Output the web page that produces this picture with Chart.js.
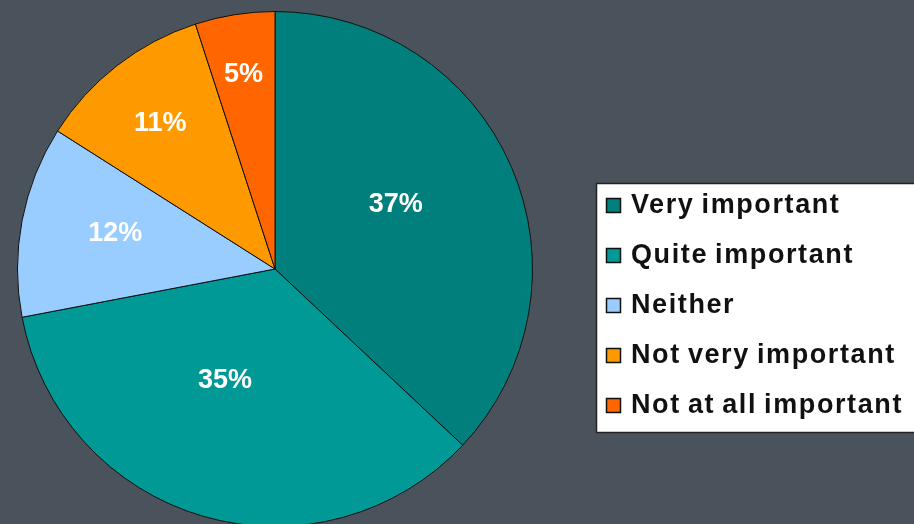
<!DOCTYPE html>
<html><head><meta charset="utf-8">
<script src="https://cdn.jsdelivr.net/npm/chart.js@4"></script>
<style>
html,body{margin:0;padding:0;background:#4a535b;overflow:hidden;width:914px;height:524px}
#wrap{position:relative;width:914px;height:540px}
</style></head>
<body><div id="wrap"><canvas id="c" width="914" height="540"></canvas></div>
<script>
const categories = ["Very important","Quite important","Neither","Not very important","Not at all important"];
const values = [37,35,12,11,5];
const valueLabels = ["37%","35%","12%","11%","5%"];
const colors = ["#007f7d","#009995","#99ccff","#ff9900","#ff6600"];
const labelRadiusFraction = [0.534,0.472,0.636,0.722,0.767];
const labelAngleFraction = [0.461,0.564,0.547,0.492,0.49];

const piePlugin = {
  id:'pieExtras',
  afterDatasetsDraw(chart){
    const ctx = chart.ctx;
    const meta = chart.getDatasetMeta(0);
    ctx.save();
    ctx.fillStyle = '#ffffff';
    ctx.font = 'bold 27px "Liberation Sans", Arial, sans-serif';
    ctx.textAlign = 'center';
    ctx.textBaseline = 'middle';
    meta.data.forEach((arc,i)=>{
      const p = arc.getProps(['x','y','startAngle','endAngle','outerRadius'],true);
      const a = p.startAngle+(p.endAngle-p.startAngle)*labelAngleFraction[i];
      const r = p.outerRadius*labelRadiusFraction[i];
      ctx.fillText(valueLabels[i], p.x+Math.cos(a)*r, p.y+Math.sin(a)*r+1);
    });
    ctx.restore();
    // legend box
    ctx.save();
    const bx=596, by=183, bw=330, bh=250;
    ctx.fillStyle='#ffffff';
    ctx.fillRect(bx,by,bw,bh);
    ctx.strokeStyle='#222';
    ctx.lineWidth=1.5;
    ctx.strokeRect(bx+0.5,by+0.5,bw,bh-1);
    ctx.font='bold 27px "Liberation Sans", Arial, sans-serif';
    try{ctx.letterSpacing='1.6px';ctx.wordSpacing='-2px';}catch(e){}
    ctx.textBaseline='alphabetic';
    ctx.textAlign='left';
    categories.forEach((c,i)=>{
      const y = 198 + i*50;
      ctx.fillStyle=colors[i];
      ctx.fillRect(606,y,15,15);
      ctx.strokeStyle='#111';
      ctx.lineWidth=1.5;
      ctx.strokeRect(606.5,y+0.5,14,14);
      ctx.fillStyle='#111';
      ctx.fillText(c,631,y+15);
    });
    ctx.restore();
  }
};

new Chart(document.getElementById('c'),{
  type:'pie',
  data:{labels:categories,datasets:[{data:values,backgroundColor:colors,borderColor:'#111111',borderWidth:1}]},
  options:{
    responsive:false,animation:false,
    layout:{padding:{left:17,right:381,top:11,bottom:13}},
    plugins:{legend:{display:false},tooltip:{enabled:false}}
  },
  plugins:[piePlugin]
});
</script></body></html>
